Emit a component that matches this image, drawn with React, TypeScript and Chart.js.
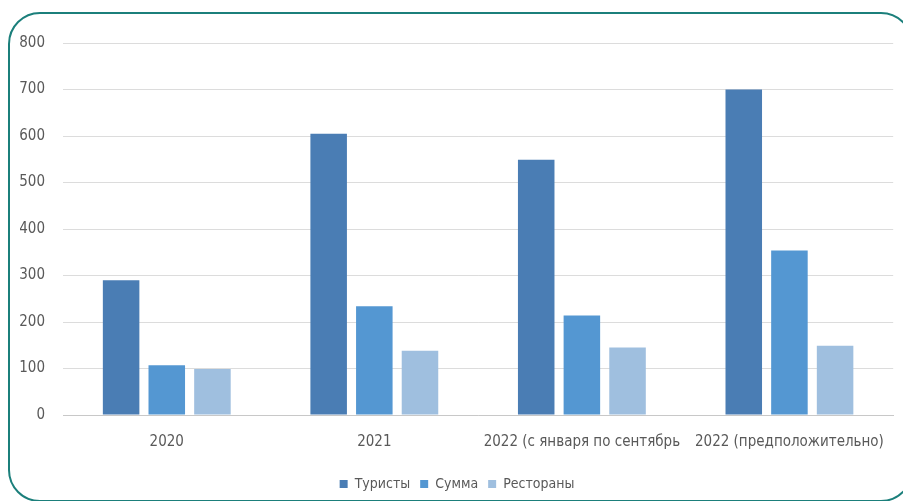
import React, { useEffect, useRef } from "react";
import { Chart, registerables } from "chart.js";

Chart.register(...registerables);

const categories = [
  "2020",
  "2021",
  "2022 (с января по сентябрь",
  "2022 (предположительно)",
];
const seriesNames = ["Туристы", "Сумма", "Рестораны"];
const tourists = [290, 605, 549, 700];
const amount = [107, 234, 214, 354];
const restaurants = [99, 138, 145, 149];
const seriesColors = ["#4a7db4", "#5497d2", "#9fbfdf"];

const FONT = "'Liberation Sans Narrow', 'DejaVu Sans Condensed', sans-serif";

export default function App() {
  const ref = useRef<HTMLCanvasElement | null>(null);
  useEffect(() => {
    if (!ref.current) return;
    const chart = new Chart(ref.current, {
      type: "bar",
      data: {
        labels: categories,
        datasets: [tourists, amount, restaurants].map((d, i) => ({
          label: seriesNames[i],
          data: d,
          backgroundColor: seriesColors[i],
          borderWidth: 0,
          categoryPercentage: 0.66,
          barPercentage: 0.8,
        })),
      },
      options: {
        animation: false,
        responsive: false,
        maintainAspectRatio: false,
        layout: { padding: { left: 20, right: 9, top: 43, bottom: 0 } },
        plugins: {
          legend: {
            position: "bottom",
            labels: {
              boxWidth: 8,
              boxHeight: 8,
              padding: 10,
              color: "#595959",
              font: { family: FONT, size: 14 },
            },
          },
          tooltip: { enabled: false },
        },
        scales: {
          x: {
            grid: { display: false, drawTicks: false },
            border: { display: true, color: "#c8c8c8", width: 1 },
            ticks: {
              color: "#595959",
              padding: 18,
              maxRotation: 0,
              autoSkip: false,
              font: { family: FONT, size: 15 },
            },
            afterFit: (s: any) => {
              s.height = 52;
            },
          },
          y: {
            min: 0,
            max: 800,
            grid: { color: "#dcdcdc", lineWidth: 1, drawTicks: false },
            border: { display: false },
            ticks: {
              stepSize: 100,
              color: "#595959",
              padding: 18,
              font: { family: FONT, size: 15 },
            },
            afterFit: (s: any) => {
              s.width = 43;
            },
          },
        },
      },
    });
    return () => chart.destroy();
  }, []);

  return (
    <div style={{ position: "fixed", left: 0, top: 0, width: 903, height: 501, background: "#fff", overflow: "hidden" }}>
      <div
        style={{
          position: "absolute",
          left: 8,
          top: 12,
          width: 905,
          height: 490,
          border: "2.5px solid #1b7f7b",
          borderRadius: 32,
          boxSizing: "border-box",
        }}
      />
      <canvas ref={ref} width={903} height={501} style={{ position: "absolute", left: 0, top: 0 }} />
    </div>
  );
}
